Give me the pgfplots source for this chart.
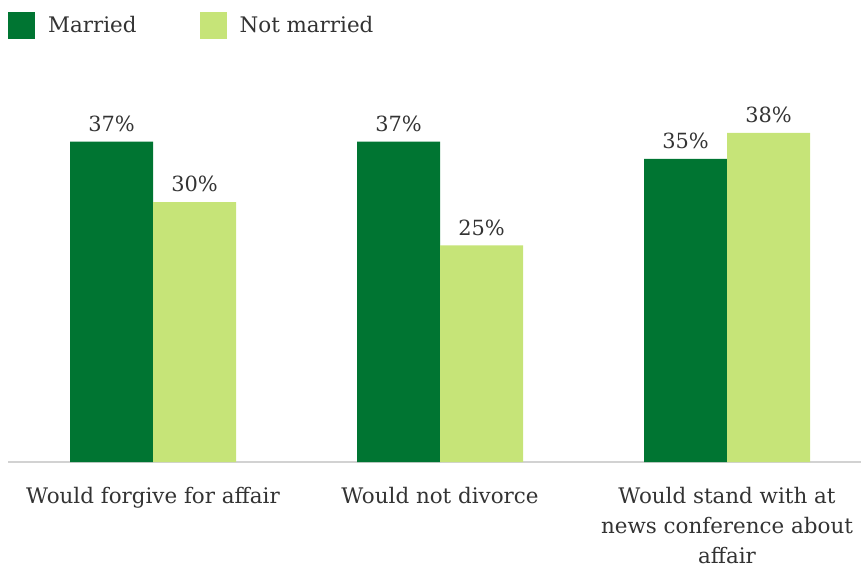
\documentclass[border=0pt]{standalone}
\usepackage{pgfplots}
\pgfplotsset{compat=1.18}
\usetikzlibrary{calc}
\usepackage{fontspec}
\setmainfont{DejaVu Serif}
\definecolor{darkg}{RGB}{0,117,50}
\definecolor{lightg}{RGB}{198,228,120}
\definecolor{basegray}{RGB}{210,210,210}
\definecolor{txt}{RGB}{51,51,51}
\begin{document}
\begin{tikzpicture}
\begin{axis}[
 scale only axis, width=853bp, height=433bp,
 xmin=-0.50523, xmax=2.46690, ymin=0, ymax=50,
 ybar, bar width=83bp,
 axis y line=none, axis x line=bottom,
 x axis line style={draw=basegray, line width=2.5bp, -},
 xtick={0,1,2},
 xticklabels={Would forgive for affair, Would not divorce, {Would stand with at\\news conference about\\affair}},
 major tick length=0pt,
 /pgf/number format/assume math mode=true,
 xticklabel style={anchor=north, inner sep=0pt, yshift=-25bp, align=center, text=txt, font=\fontsize{21.5}{30}\selectfont},
 nodes near coords={\pgfmathprintnumber{\pgfplotspointmeta}\%},
 nodes near coords style={font=\fontsize{21}{24}\selectfont, anchor=south, inner sep=0pt, yshift=10bp, text=txt},
 legend style={at={(axis description cs:0,1.0092)}, anchor=west, draw=none, fill=none, inner sep=0pt, legend columns=2, font=\fontsize{21.5}{24}\selectfont, /tikz/every even column/.append style={column sep=63bp}, nodes={inner sep=0pt, text=txt}},
 legend cell align=left,
 legend image code/.code={\fill[#1,draw=none] (0bp,-13.5bp) rectangle (27bp,13.5bp); \path (40bp,0bp);},
 clip=false,
]
\addplot[fill=darkg, draw=none, bar shift=-41.5bp] coordinates {(0,37) (1,37) (2,35)};
\addplot[fill=lightg, draw=none, bar shift=41.5bp] coordinates {(0,30) (1,25) (2,38)};
\legend{Married, Not married}
\coordinate (O) at (rel axis cs:0,0);
\end{axis}
\pgfresetboundingbox
\path[use as bounding box] ($(O)+(-8bp,-107bp)$) rectangle ($(O)+(853bp,462bp)$);
\end{tikzpicture}
\end{document}
